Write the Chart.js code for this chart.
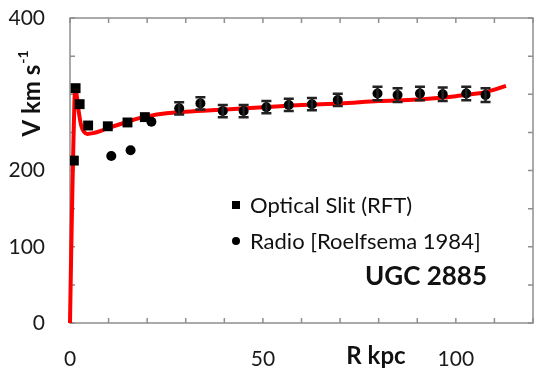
<!DOCTYPE html>
<html lang="en">
<head>
<meta charset="UTF-8">
<title>UGC 2885 rotation curve</title>
<script src="https://cdn.jsdelivr.net/npm/chart.js"></script>
<style>
  html, body { margin: 0; padding: 0; background: #fff; }
  #wrap { width: 540px; height: 371px; }
</style>
</head>
<body>
<div id="wrap"><canvas id="rc" width="540" height="371"></canvas></div>
<script>
// model rotation curve (red line)
var modelR = [0, 0.3, 0.6, 0.9, 1.15, 1.4, 1.8, 2.3, 2.9, 3.6, 4.5, 6, 8, 10, 12.5, 15, 17.5, 20, 25, 30, 40, 50, 60, 70, 80, 90, 96, 100, 104, 107, 110, 113];
var modelV = [0, 90, 170, 240, 290, 309, 296, 276, 259, 251, 248, 249, 252, 256, 260, 264, 268, 271, 275, 277, 280, 283, 286, 288, 291, 293, 295.5, 297.5, 300, 302, 306, 311];

// optical slit points (RFT)
var optR = [1.0, 1.45, 2.5, 4.7, 9.8, 14.9, 19.4];
var optV = [213, 308, 287, 259, 258, 263, 270];

// radio points (Roelfsema 1984) with error half-widths
var radR = [10.7, 15.7, 21.1, 28.3, 33.8, 39.6, 45.0, 50.9, 56.7, 62.7, 69.4, 79.7, 84.9, 90.7, 96.6, 102.7, 107.7];
var radV = [219, 226.5, 264, 281.5, 288, 278, 278, 283, 286, 287, 292.5, 301, 299, 301, 300, 301, 299];
var radErr = [0, 0, 0, 8, 8, 8, 8, 8, 8, 8, 8, 9, 9, 9, 9, 9, 9];

// labelled ticks
var xLabels = [0, 50, 100];
var yLabels = [0, 100, 200, 400];

function pts(xs, ys) {
  return xs.map(function (v, i) { return { x: v, y: ys[i] }; });
}

// keep the plot box fixed: no extra room reserved for edge labels
function noPad(s) {
  s.paddingTop = 0; s.paddingBottom = 0;
  s.paddingLeft = 0; s.paddingRight = 0;
}

Chart.defaults.font.family = 'Lato, "DejaVu Sans", sans-serif';
Chart.defaults.color = '#1a1a1a';

// box frame with inward ticks on all four sides
var frame = {
  id: 'frame',
  beforeDatasetsDraw: function (chart) {
    var ctx = chart.ctx, a = chart.chartArea, sx = chart.scales.x, sy = chart.scales.y;
    ctx.save();
    ctx.strokeStyle = '#8f8f8f';
    ctx.lineWidth = 1.5;
    ctx.strokeRect(a.left, a.top, a.right - a.left, a.bottom - a.top);
    ctx.beginPath();
    sx.ticks.forEach(function (t) {
      var px = sx.getPixelForValue(t.value);
      ctx.moveTo(px, a.bottom); ctx.lineTo(px, a.bottom - 5);
      ctx.moveTo(px, a.top); ctx.lineTo(px, a.top + 5);
    });
    sy.ticks.forEach(function (t) {
      var py = sy.getPixelForValue(t.value);
      ctx.moveTo(a.left, py); ctx.lineTo(a.left + 5, py);
      ctx.moveTo(a.right, py); ctx.lineTo(a.right - 5, py);
    });
    ctx.stroke();
    ctx.restore();
  }
};

// vertical error bars on the radio points
var errBars = {
  id: 'errBars',
  afterDatasetsDraw: function (chart) {
    var ctx = chart.ctx, sx = chart.scales.x, sy = chart.scales.y;
    ctx.save();
    ctx.strokeStyle = '#222';
    ctx.lineWidth = 2.5;
    radR.forEach(function (r, i) {
      if (!radErr[i]) return;
      var px = sx.getPixelForValue(r);
      var top = sy.getPixelForValue(radV[i] + radErr[i]);
      var bot = sy.getPixelForValue(radV[i] - radErr[i]);
      ctx.beginPath();
      ctx.moveTo(px, top); ctx.lineTo(px, bot);
      ctx.moveTo(px - 5, top); ctx.lineTo(px + 5, top);
      ctx.moveTo(px - 5, bot); ctx.lineTo(px + 5, bot);
      ctx.stroke();
    });
    ctx.restore();
  }
};

// axis titles, legend and galaxy name
var labels = {
  id: 'labels',
  afterDraw: function (chart) {
    var ctx = chart.ctx;
    ctx.save();
    ctx.fillStyle = '#111';

    // y title, rotated
    ctx.save();
    ctx.translate(32, 94);
    ctx.rotate(-Math.PI / 2);
    var main = 'V km s';
    ctx.font = 'bold 24px Lato';
    var w1 = ctx.measureText(main).width;
    ctx.font = 'bold 14px Lato';
    var w2 = ctx.measureText('-1').width;
    var start = -(w1 + w2) / 2;
    ctx.textBaseline = 'middle';
    ctx.textAlign = 'left';
    ctx.font = 'bold 24px Lato';
    ctx.fillText(main, start, 0);
    ctx.font = 'bold 14px Lato';
    ctx.fillText('-1', start + w1 + 1, -9);
    ctx.restore();

    // x title
    ctx.font = 'bold 24px Lato';
    ctx.textAlign = 'center';
    ctx.textBaseline = 'middle';
    ctx.fillText('R kpc', 376, 356);

    // legend
    ctx.fillStyle = '#000';
    ctx.fillRect(232, 201, 8, 8);
    ctx.beginPath();
    ctx.arc(236, 241, 4, 0, Math.PI * 2);
    ctx.fill();
    ctx.fillStyle = '#111';
    ctx.font = '22px Lato';
    ctx.textAlign = 'left';
    ctx.fillText('Optical Slit (RFT)', 250, 206);
    ctx.fillText('Radio [Roelfsema 1984]', 250, 242);

    ctx.font = 'bold 26px Lato';
    ctx.textAlign = 'center';
    ctx.fillText('UGC 2885', 426, 277);
    ctx.restore();
  }
};

new Chart(document.getElementById('rc'), {
  type: 'scatter',
  data: {
    datasets: [
      {
        label: 'Model',
        data: pts(modelR, modelV),
        showLine: true,
        borderColor: '#ff0000',
        borderWidth: 4,
        pointRadius: 0,
        cubicInterpolationMode: 'monotone',
        clip: false,
        order: 3
      },
      {
        label: 'Optical Slit (RFT)',
        data: pts(optR, optV),
        pointStyle: 'rect',
        pointRadius: 7,
        backgroundColor: '#000',
        borderColor: '#000',
        borderWidth: 0,
        order: 1
      },
      {
        label: 'Radio [Roelfsema 1984]',
        data: pts(radR, radV),
        pointStyle: 'circle',
        pointRadius: 5,
        backgroundColor: '#000',
        borderColor: '#000',
        borderWidth: 0,
        order: 2
      }
    ]
  },
  options: {
    responsive: false,
    animation: false,
    layout: { padding: { top: 18, right: 2, left: 0, bottom: 0 } },
    plugins: { legend: { display: false }, tooltip: { enabled: false } },
    scales: {
      x: {
        type: 'linear',
        min: 0,
        max: 120,
        grid: { display: false, drawTicks: false },
        border: { display: false },
        ticks: {
          stepSize: 10,
          padding: 24,
          maxRotation: 0,
          autoSkip: false,
          font: { size: 21 },
          callback: function (v) { return xLabels.indexOf(v) >= 0 ? String(v) : ''; }
        },
        afterFit: function (s) { s.height = 48; noPad(s); }
      },
      y: {
        min: 0,
        max: 400,
        grid: { display: false, drawTicks: false },
        border: { display: false },
        ticks: {
          stepSize: 50,
          padding: 25,
          autoSkip: false,
          font: { size: 21 },
          callback: function (v) { return yLabels.indexOf(v) >= 0 ? String(v) : ''; }
        },
        afterFit: function (s) { s.width = 70; noPad(s); }
      }
    }
  },
  plugins: [frame, errBars, labels]
});
</script>
</body>
</html>
